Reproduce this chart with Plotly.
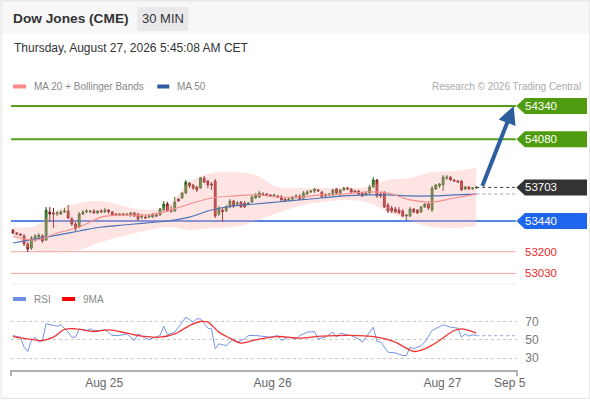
import plotly.graph_objects as go

# 30 min candles, index 0..126 (Aug 24 evening -> Aug 27 05:30)
opens = [53370, 53346, 53338, 53323, 53260, 53229, 53291, 53315, 53323, 53291,
         53511, 53503, 53495, 53495, 53511, 53518, 53456, 53417, 53393, 53495,
         53511, 53511, 53518, 53503, 53518, 53511, 53526, 53511, 53495, 53487,
         53495, 53487, 53487, 53503, 53495, 53471, 53471, 53471, 53471, 53487,
         53487, 53526, 53573, 53526, 53518, 53612, 53620, 53659, 53737, 53722,
         53706, 53698, 53777, 53753, 53730, 53753, 53495, 53526, 53518, 53550,
         53597, 53573, 53589, 53581, 53573, 53589, 53620, 53628, 53651, 53651,
         53644, 53636, 53636, 53628, 53612, 53605, 53612, 53628, 53636, 53620,
         53651, 53667, 53675, 53683, 53667, 53636, 53644, 53644, 53691, 53659,
         53683, 53698, 53691, 53675, 53675, 53659, 53644, 53659, 53706, 53761,
         53651, 53659, 53565, 53542, 53534, 53526, 53518, 53479, 53479, 53534,
         53526, 53511, 53550, 53573, 53526, 53691, 53714, 53722, 53777, 53784,
         53761, 53753, 53753, 53691, 53706, 53691, 53698]
highs = [53377, 53354, 53346, 53338, 53276, 53323, 53338, 53346, 53338, 53550,
         53550, 53542, 53518, 53526, 53542, 53565, 53471, 53432, 53511, 53526,
         53534, 53526, 53534, 53526, 53534, 53542, 53534, 53518, 53503, 53503,
         53503, 53503, 53511, 53511, 53503, 53495, 53487, 53487, 53503, 53503,
         53542, 53597, 53589, 53558, 53628, 53620, 53667, 53761, 53745, 53730,
         53714, 53784, 53792, 53761, 53745, 53769, 53558, 53550, 53565, 53612,
         53605, 53597, 53597, 53597, 53589, 53644, 53659, 53675, 53667, 53659,
         53651, 53651, 53644, 53644, 53620, 53628, 53636, 53651, 53651, 53675,
         53683, 53683, 53698, 53691, 53675, 53659, 53659, 53691, 53698, 53691,
         53706, 53706, 53698, 53683, 53683, 53667, 53675, 53722, 53784, 53769,
         53667, 53675, 53581, 53558, 53550, 53550, 53534, 53495, 53550, 53542,
         53534, 53558, 53581, 53589, 53714, 53730, 53737, 53800, 53800, 53792,
         53769, 53761, 53761, 53714, 53714, 53706, 53714]
lows = [53338, 53330, 53323, 53244, 53197, 53213, 53276, 53291, 53268, 53283,
        53432, 53385, 53479, 53487, 53503, 53456, 53401, 53362, 53385, 53487,
        53503, 53503, 53495, 53495, 53503, 53503, 53495, 53479, 53479, 53479,
        53479, 53479, 53471, 53471, 53440, 53456, 53456, 53464, 53464, 53471,
        53479, 53518, 53511, 53503, 53511, 53589, 53612, 53651, 53698, 53683,
        53667, 53691, 53737, 53698, 53683, 53464, 53479, 53432, 53511, 53542,
        53542, 53558, 53542, 53542, 53565, 53581, 53612, 53620, 53636, 53636,
        53628, 53628, 53620, 53597, 53589, 53597, 53605, 53620, 53605, 53612,
        53644, 53659, 53659, 53667, 53620, 53628, 53636, 53636, 53651, 53636,
        53675, 53683, 53659, 53659, 53644, 53628, 53636, 53651, 53698, 53620,
        53620, 53542, 53503, 53503, 53503, 53495, 53471, 53448, 53471, 53503,
        53495, 53503, 53542, 53526, 53511, 53683, 53698, 53675, 53761, 53753,
        53745, 53737, 53675, 53683, 53683, 53683, 53691]
closes = [53346, 53338, 53330, 53260, 53221, 53307, 53323, 53330, 53283, 53526,
          53495, 53495, 53503, 53511, 53518, 53464, 53417, 53377, 53495, 53511,
          53518, 53518, 53503, 53518, 53511, 53526, 53511, 53487, 53487, 53495,
          53487, 53495, 53503, 53479, 53456, 53479, 53464, 53479, 53495, 53479,
          53534, 53573, 53518, 53518, 53589, 53597, 53659, 53745, 53714, 53698,
          53683, 53777, 53745, 53722, 53722, 53479, 53542, 53511, 53550, 53597,
          53558, 53581, 53550, 53550, 53581, 53628, 53644, 53659, 53644, 53644,
          53636, 53644, 53628, 53605, 53597, 53612, 53628, 53636, 53612, 53659,
          53667, 53675, 53691, 53675, 53628, 53644, 53651, 53683, 53659, 53683,
          53698, 53691, 53667, 53667, 53651, 53636, 53659, 53706, 53761, 53636,
          53636, 53550, 53518, 53518, 53511, 53503, 53479, 53487, 53534, 53511,
          53503, 53550, 53573, 53542, 53698, 53722, 53730, 53784, 53784, 53761,
          53753, 53745, 53683, 53706, 53691, 53698, 53703]

# indicators read every 6th candle
ind_idx = [0, 6, 12, 18, 24, 30, 36, 42, 48, 54, 60, 66, 72, 78, 84, 90, 96, 102, 108, 114, 120, 126]
ma20 = [53323, 53291, 53346, 53393, 53471, 53487, 53487, 53518, 53573, 53620, 53636,
        53644, 53628, 53628, 53644, 53651, 53667, 53659, 53605, 53589, 53620, 53651]
ma50 = [53268, 53299, 53330, 53362, 53393, 53409, 53424, 53440, 53471, 53526, 53558,
        53573, 53589, 53605, 53620, 53636, 53644, 53644, 53636, 53636, 53644, 53651]
bb_upper = [53393, 53401, 53526, 53581, 53597, 53558, 53526, 53558, 53745, 53815, 53823,
            53800, 53706, 53698, 53698, 53698, 53706, 53761, 53777, 53823, 53831, 53855]
bb_lower = [53315, 53205, 53197, 53213, 53276, 53323, 53362, 53393, 53370, 53385, 53393,
            53440, 53503, 53558, 53589, 53605, 53589, 53511, 53440, 53393, 53385, 53401]

rsi_idx = [0, 2, 3, 4, 5, 6, 7, 8, 9, 12, 13, 15, 16, 17, 18, 20, 21, 22, 24, 25, 27, 29,
           31, 33, 34, 36, 37, 40, 41, 42, 44, 45, 47, 49, 50, 51, 53, 54, 55, 56, 58,
           60, 61, 63, 64, 66, 68, 70, 72, 73, 75, 77, 78, 80, 82, 83, 85, 87, 88, 89,
           91, 92, 94, 95, 96, 98, 99, 100, 102, 104, 106, 107, 108, 109, 111, 112, 114,
           115, 117, 119, 121, 122, 123, 124, 125, 126]
rsi = [54.7, 52.9, 42, 37.3, 49.3, 52.9, 47.5, 49.3, 67.5, 64.9, 66.4, 58.4, 52.9, 52.9,
       62, 60.2, 62, 60.2, 60.2, 61.3, 54.7, 54.7, 56.5, 49.3, 56.5, 51.8, 50.4, 54.7,
       64.9, 55.5, 58.4, 63.8, 74.7, 69.3, 72.9, 72.9, 62.7, 62, 40.2, 45.6, 43.8, 51.1,
       47.5, 51.1, 54.7, 54.7, 54, 52.9, 54.7, 49.3, 52.9, 51.1, 54.7, 58.4, 59.1, 51.1,
       52.9, 58.4, 52.9, 57.3, 55.5, 54.7, 51.1, 47.5, 52.9, 63.8, 48.2, 47.5, 36.5,
       35.8, 32.9, 32.9, 42, 40.2, 43.8, 47.5, 60.2, 62, 66.4, 63.8, 62.7, 52.9, 56.5,
       54, 55.5, 54.7]
ma9_idx = [0, 5, 8, 11, 14, 17, 22, 26, 31, 35, 40, 44, 48, 51, 53, 56, 59, 62, 66, 72,
           78, 84, 94, 99, 104, 107, 109, 112, 116, 120, 122, 124, 126]
rsi_ma9 = [53.6, 50.4, 49.3, 52.9, 61.3, 62, 59.1, 60.9, 57.3, 54, 52.9, 56.5, 65.6, 70,
           69.3, 58.4, 51.8, 46.4, 50, 53.6, 51.8, 54, 54.7, 52.9, 47.5, 40.9, 37.3, 40.2,
           49.3, 60.2, 62, 60.2, 57.3]

# key levels
resistances = [54340, 54080]
pivot = 53440
supports = [53200, 53030]
last_price = 53703

date_ticks = [24.8, 70.6, 116.8, 135.1]
date_labels = ["Aug 25", "Aug 26", "Aug 27", "Sep 5"]

FONT = "Liberation Sans, Arial, sans-serif"
W, H = 590, 400
FIG_W = 600  # the page snapshot comes out a bit narrower than the figure
x_end = 136.5


def px(x):
    return x / W


def py(y):
    return 1 - y / H


idx = list(range(len(closes)))

fig = go.Figure()

# bollinger band
fig.add_trace(go.Scatter(x=ind_idx, y=bb_upper, mode="lines", line=dict(width=0, shape="spline"),
                         hoverinfo="skip"))
fig.add_trace(go.Scatter(x=ind_idx, y=bb_lower, mode="lines", line=dict(width=0, shape="spline"),
                         fill="tonexty", fillcolor="rgba(255,170,170,0.32)", hoverinfo="skip"))
fig.add_trace(go.Scatter(x=ind_idx, y=ma50, mode="lines",
                         line=dict(color="#4a72b4", width=1.2, shape="spline")))
fig.add_trace(go.Scatter(x=ind_idx, y=ma20, mode="lines",
                         line=dict(color="#f59090", width=1.2, shape="spline")))
fig.add_trace(go.Scatter(x=[ind_idx[-1], x_end], y=[ma50[-1], ma50[-1]], mode="lines",
                         line=dict(color="#8ea4c8", width=1, dash="dot")))
fig.add_trace(go.Scatter(x=[idx[-1], x_end], y=[last_price, last_price], mode="lines",
                         line=dict(color="#333333", width=1, dash="dot")))

fig.add_trace(go.Candlestick(
    x=idx, open=opens, high=highs, low=lows, close=closes,
    increasing=dict(line=dict(color="#2b5f1c", width=1), fillcolor="#3e9a2c"),
    decreasing=dict(line=dict(color="#7d1a1a", width=1), fillcolor="#d62a2a"),
    whiskerwidth=0))

# RSI panel
fig.add_trace(go.Scatter(x=rsi_idx, y=rsi, mode="lines", line=dict(color="#7393ea", width=1),
                         xaxis="x2", yaxis="y2"))
fig.add_trace(go.Scatter(x=ma9_idx, y=rsi_ma9, mode="lines",
                         line=dict(color="#f03333", width=1.3, shape="spline"),
                         xaxis="x2", yaxis="y2"))
fig.add_trace(go.Scatter(x=[rsi_idx[-1], x_end], y=[rsi[-1], rsi[-1]], mode="lines",
                         line=dict(color="#9fb4ee", width=1.3, dash="dot"),
                         xaxis="x2", yaxis="y2"))

shapes = []
annotations = []

# frame and header
shapes.append(dict(type="rect", xref="paper", yref="paper", x0=0, x1=1, y0=py(34), y1=1,
                   fillcolor="#f7f7f7", line=dict(width=0), layer="below"))
shapes.append(dict(type="rect", xref="paper", yref="paper", x0=px(137), x1=px(188), y0=py(31), y1=py(7),
                   fillcolor="#e9e9eb", line=dict(width=0)))
shapes.append(dict(type="rect", xref="paper", yref="paper", x0=0.002, x1=0.998, y0=0.004, y1=0.998,
                   line=dict(color="#e2e2e2", width=1)))
shapes.append(dict(type="line", xref="paper", yref="paper", x0=px(11), x1=px(516), y0=py(284), y1=py(284),
                   line=dict(color="#eeeeee", width=1)))
annotations.append(dict(text="<b>Dow Jones (CME)</b>", x=px(11), y=py(19), font=dict(size=13.7, color="#333")))
annotations.append(dict(text="30 MIN", x=px(162.5), y=py(19), xanchor="center", font=dict(size=13, color="#333")))
annotations.append(dict(text="Thursday, August 27, 2026 5:45:08 AM CET", x=px(12), y=py(48),
                        font=dict(size=12, color="#333")))

# legends
shapes.append(dict(type="rect", xref="paper", yref="paper", x0=px(13), x1=px(26), y0=py(88.5), y1=py(84.5),
                   fillcolor="#ff8a8a", line=dict(width=0)))
shapes.append(dict(type="rect", xref="paper", yref="paper", x0=px(157), x1=px(169), y0=py(88.5), y1=py(84.5),
                   fillcolor="#2f5da0", line=dict(width=0)))
annotations.append(dict(text="MA 20 + Bollinger Bands", x=px(32), y=py(86.5), font=dict(size=10, color="#888")))
annotations.append(dict(text="MA 50", x=px(175), y=py(86.5), font=dict(size=10, color="#888")))
annotations.append(dict(text="Research \u00a9 2026 Trading Central", x=px(582), y=py(86.5), xanchor="right",
                        font=dict(size=10, color="#aaa")))
shapes.append(dict(type="rect", xref="paper", yref="paper", x0=px(13), x1=px(26), y0=py(301), y1=py(297),
                   fillcolor="#6d8fe8", line=dict(width=0)))
shapes.append(dict(type="rect", xref="paper", yref="paper", x0=px(62), x1=px(75), y0=py(301), y1=py(297),
                   fillcolor="#ff0000", line=dict(width=0)))
annotations.append(dict(text="RSI", x=px(32), y=py(299), font=dict(size=10, color="#888")))
annotations.append(dict(text="9MA", x=px(81), y=py(299), font=dict(size=10, color="#888")))

# level lines and tags
half = 8 / 0.1278
tip, body, right = px(515.5), px(524), px(586)


def tag(level, color):
    shapes.append(dict(type="path", xref="paper", yref="y",
                       path=f"M {tip} {level} L {body} {level + half} L {right} {level + half} "
                            f"L {right} {level - half} L {body} {level - half} Z",
                       fillcolor=color, line=dict(width=0)))
    annotations.append(dict(text=str(level), x=px(522), y=level, yref="y",
                            font=dict(size=11.5, color="white")))


for lv in resistances:
    shapes.append(dict(type="line", xref="paper", yref="y", x0=px(11), x1=px(515), y0=lv, y1=lv,
                       line=dict(color="#56a01a", width=2), layer="below"))
    tag(lv, "#4f9c10")
shapes.append(dict(type="line", xref="paper", yref="y", x0=px(11), x1=px(515), y0=pivot, y1=pivot,
                   line=dict(color="#1f5fd8", width=1.5), layer="below"))
tag(pivot, "#1f66ee")
tag(last_price, "#333333")
for lv in supports:
    shapes.append(dict(type="line", xref="paper", yref="y", x0=px(11), x1=px(515), y0=lv, y1=lv,
                       line=dict(color="#f5a5a5", width=1), layer="below"))
    annotations.append(dict(text=str(lv), x=px(522), y=lv, yref="y", font=dict(size=11.5, color="#ec2a2a")))

# x axis end ticks
for xe in [11, 516]:
    shapes.append(dict(type="line", xref="paper", yref="paper", x0=px(xe), x1=px(xe), y0=py(370), y1=py(376),
                       line=dict(color="#b0b0b0", width=2)))

# target arrow
annotations.append(dict(x=x_end - 0.3, y=resistances[0], xref="x", yref="y", ax=idx[-1] + 1.5, ay=last_price,
                        axref="x", ayref="y", showarrow=True, arrowhead=2, arrowsize=0.9, arrowwidth=4,
                        arrowcolor="#2d5f9f", text=""))

for a in annotations:
    a.setdefault("xref", "paper")
    a.setdefault("yref", "paper")
    a.setdefault("xanchor", "left")
    a.setdefault("yanchor", "middle")
    a.setdefault("showarrow", False)

xdom = [px(11), px(516)]
xrng = [-0.545, 137.06]

fig.update_layout(
    width=FIG_W, height=H, margin=dict(l=0, r=0, t=0, b=0),
    paper_bgcolor="white", plot_bgcolor="white", showlegend=False,
    font=dict(family=FONT),
    xaxis=dict(domain=xdom, range=xrng, visible=False, rangeslider=dict(visible=False), anchor="y"),
    yaxis=dict(domain=[py(284), py(95)], range=[52947.2, 54426.1], visible=False, anchor="x"),
    xaxis2=dict(domain=xdom, range=xrng, anchor="y2", tickvals=date_ticks, ticktext=date_labels,
                showline=True, linecolor="#b0b0b0", linewidth=2, showgrid=False, zeroline=False,
                ticks="outside", ticklen=1, tickcolor="rgba(0,0,0,0)",
                tickfont=dict(size=12, color="#666")),
    yaxis2=dict(domain=[py(370), py(305)], range=[17.1, 88.0], anchor="x2", side="right",
                tickvals=[30, 50, 70], showgrid=True, gridcolor="#c8c8c8", griddash="dot",
                zeroline=False, showline=False, ticks="outside", ticklen=5, tickcolor="rgba(0,0,0,0)",
                tickfont=dict(size=12, color="#777")),
    shapes=shapes, annotations=annotations,
)

fig.write_html("out.html", config={"displayModeBar": False, "responsive": False},
               post_script="document.body.style.margin='0';document.body.style.overflow='hidden';")
